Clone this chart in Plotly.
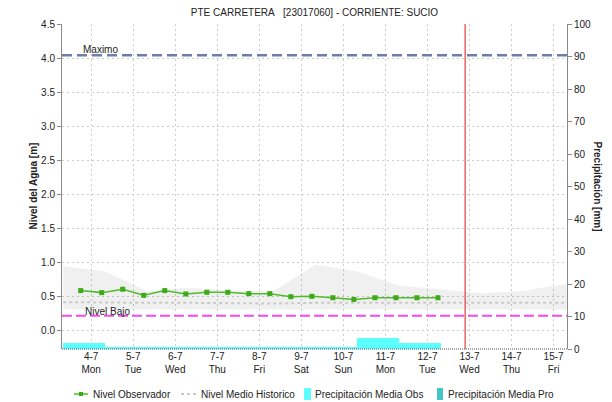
import plotly.graph_objects as go

# ---- data -------------------------------------------------------------
TITLE = "PTE CARRETERA\u00a0\u00a0\u00a0[23017060] - CORRIENTE: SUCIO"

# observed water level, every 12 h (m)
obs_time = [
    "2022-07-04 06:00", "2022-07-04 18:00", "2022-07-05 06:00", "2022-07-05 18:00",
    "2022-07-06 06:00", "2022-07-06 18:00", "2022-07-07 06:00", "2022-07-07 18:00",
    "2022-07-08 06:00", "2022-07-08 18:00", "2022-07-09 06:00", "2022-07-09 18:00",
    "2022-07-10 06:00", "2022-07-10 18:00", "2022-07-11 06:00", "2022-07-11 18:00",
    "2022-07-12 06:00", "2022-07-12 18:00",
]
obs_level = [0.58, 0.55, 0.60, 0.51, 0.58, 0.53, 0.555, 0.555, 0.535, 0.535,
             0.49, 0.495, 0.475, 0.45, 0.475, 0.475, 0.475, 0.475]

# historical envelope and mean level (m), daily
hist_time = [
    "2022-07-03 20:00", "2022-07-04 20:00", "2022-07-05 20:00", "2022-07-06 20:00",
    "2022-07-07 20:00", "2022-07-08 20:00", "2022-07-09 20:00", "2022-07-10 20:00",
    "2022-07-11 20:00", "2022-07-12 20:00", "2022-07-13 20:00", "2022-07-14 20:00",
    "2022-07-15 20:00",
]
hist_max = [0.94, 0.86, 0.57, 0.62, 0.58, 0.57, 0.96, 0.86, 0.65, 0.60, 0.54, 0.58, 0.68]
hist_min = [0.30, 0.30, 0.30, 0.30, 0.30, 0.30, 0.30, 0.30, 0.30, 0.30, 0.30, 0.30, 0.30]
hist_mean = [0.41, 0.40, 0.40, 0.40, 0.39, 0.39, 0.40, 0.40, 0.40, 0.39, 0.39, 0.40, 0.40]

# daily observed precipitation (mm), each bar spans 20:00 -> 20:00
rain_time = [
    "2022-07-04 08:00", "2022-07-05 08:00", "2022-07-06 08:00", "2022-07-07 08:00",
    "2022-07-08 08:00", "2022-07-09 08:00", "2022-07-10 08:00", "2022-07-11 08:00",
    "2022-07-12 08:00",
]
rain_obs = [1.9, 0.5, 0.5, 0.5, 0.5, 0.5, 0.5, 3.3, 1.7]

# reference levels (m) and current time
LEVEL_MAX = 4.04
LEVEL_LOW = 0.21
NOW = "2022-07-13 09:30"

day_ticks = ["2022-07-%02d 12:00" % d for d in range(4, 16)]
x_range = ["2022-07-03 19:20", "2022-07-15 19:40"]

# ---- layout geometry --------------------------------------------------
W, H = 612, 402
ML, MR, MT, MB = 62, 45, 24, 53
PW, PH = W - ML - MR, H - MT - MB


def px(x):
    return (x - ML) / PW


def py(y):
    return (H - MB - y) / PH


FONT = "Liberation Sans, Arial, sans-serif"
TXT = "#222222"
AXIS = "#8a8a8a"
GRID = "#cdcdcd"
GREEN = "#4fbd27"
CYAN = "#5cffff"
TEAL = "#44c6c6"
MAGENTA = "#f04cf0"
MAXC = "#6f7ea6"
MEANC = "#c9c9c9"

fig = go.Figure()

# historical band
fig.add_trace(go.Scatter(x=hist_time, y=hist_min, mode="lines",
                         line=dict(width=0), hoverinfo="skip", showlegend=False))
fig.add_trace(go.Scatter(x=hist_time, y=hist_max, mode="lines", fill="tonexty",
                         fillcolor="rgba(0,0,0,0.06)", line=dict(width=0),
                         hoverinfo="skip", showlegend=False))
# historical mean
fig.add_trace(go.Scatter(x=hist_time, y=hist_mean, mode="lines",
                         line=dict(color=MEANC, width=2, dash="3px,3px"),
                         name="Nivel Medio Historico", showlegend=False))
# observed level
fig.add_trace(go.Scatter(x=obs_time, y=obs_level, mode="lines+markers",
                         line=dict(color=GREEN, width=1.5),
                         marker=dict(color="#3daa18", size=5, symbol="square"),
                         name="Nivel Observador", showlegend=False))
# precipitation bars (right axis)
fig.add_trace(go.Bar(x=rain_time, y=rain_obs, width=[86400000] * len(rain_time),
                     marker=dict(color=CYAN, line=dict(width=0)),
                     yaxis="y2", name="Precipitación Media Obs", showlegend=False))

# threshold levels
fig.add_shape(type="line", xref="paper", x0=0, x1=1, yref="y", y0=LEVEL_MAX, y1=LEVEL_MAX,
              line=dict(color=MAXC, width=2.5, dash="10px,5px"), layer="above")
fig.add_shape(type="line", xref="paper", x0=0, x1=1, yref="y", y0=LEVEL_LOW, y1=LEVEL_LOW,
              line=dict(color=MAGENTA, width=2, dash="10px,4px"), layer="above")
# current time marker
fig.add_shape(type="line", xref="x", x0=NOW, x1=NOW, yref="paper", y0=0, y1=1,
              line=dict(color="#e23c3c", width=1.2), layer="above")
# dotted base line
fig.add_shape(type="line", xref="paper", x0=0, x1=1, yref="paper", y0=0, y1=0,
              line=dict(color="#555555", width=1, dash="1px,1px"), layer="above")

annotations = [
    dict(text="Maximo", xref="paper", yref="y", x=px(81), y=LEVEL_MAX, xanchor="left",
         yanchor="bottom", yshift=-2, showarrow=False, font=dict(size=10, color=TXT)),
    dict(text="Nivel Bajo", xref="paper", yref="y", x=px(83), y=LEVEL_LOW, xanchor="left",
         yanchor="bottom", yshift=-3, showarrow=False, font=dict(size=10, color=TXT)),
    dict(text="<b>Nivel del Agua [m]</b>", xref="paper", yref="paper", x=px(33), y=0.5,
         xanchor="center", yanchor="middle",
         textangle=-90, showarrow=False, font=dict(size=10, color=TXT)),
    dict(text="<b>Precipitación [mm]</b>", xref="paper", yref="paper", x=px(597), y=0.5,
         xanchor="center", yanchor="middle",
         textangle=90, showarrow=False, font=dict(size=10, color=TXT)),
]

# legend drawn along the bottom
LY = 394
shapes_leg = [
    dict(type="line", xref="paper", yref="paper", x0=px(74), x1=px(88), y0=py(LY), y1=py(LY),
         line=dict(color=GREEN, width=1.5)),
    dict(type="rect", xref="paper", yref="paper", x0=px(79), x1=px(83), y0=py(LY - 2), y1=py(LY + 2),
         line=dict(width=0), fillcolor="#3daa18"),
    dict(type="line", xref="paper", yref="paper", x0=px(181), x1=px(196), y0=py(LY), y1=py(LY),
         line=dict(color=MEANC, width=2, dash="3px,3px")),
    dict(type="rect", xref="paper", yref="paper", x0=px(304), x1=px(311), y0=py(LY + 6), y1=py(LY - 6),
         line=dict(width=0), fillcolor=CYAN),
    dict(type="rect", xref="paper", yref="paper", x0=px(437), x1=px(443), y0=py(LY + 6), y1=py(LY - 6),
         line=dict(width=0), fillcolor=TEAL),
]
for s in shapes_leg:
    fig.add_shape(**s)
for label, x0 in [("Nivel Observador", 91), ("Nivel Medio Historico", 199),
                  ("Precipitación Media Obs", 313), ("Precipitación Media Pro", 446)]:
    annotations.append(dict(text=label, xref="paper", yref="paper", x=px(x0), y=py(LY),
                            xanchor="left", yanchor="middle", showarrow=False,
                            font=dict(size=10, color=TXT)))

fig.update_layout(
    width=W, height=H,
    margin=dict(l=ML, r=MR, t=MT, b=MB, pad=0),
    paper_bgcolor="white", plot_bgcolor="white",
    font=dict(family=FONT, size=10, color=TXT),
    title=dict(text=TITLE, x=0.5, xref="paper", y=1 - 12 / H, yanchor="middle",
               font=dict(size=10, color=TXT)),
    showlegend=False,
    bargap=0,
    annotations=annotations,
    xaxis=dict(type="date", range=x_range, tickvals=day_ticks, tickformat="%-d-%-m<br>%a",
               showgrid=True, gridcolor=GRID, griddash="2px,3px", gridwidth=1,
               showline=False, ticks="", zeroline=False,
               tickfont=dict(size=10, color=TXT)),
    yaxis=dict(range=[-0.279, 4.5], tickvals=[0, 0.5, 1, 1.5, 2, 2.5, 3, 3.5, 4, 4.5],
               tickformat=".1f", showgrid=True, gridcolor=GRID, griddash="2px,3px",
               zeroline=False, showline=True, linecolor=AXIS, linewidth=1,
               ticks="outside", ticklen=4, tickcolor=AXIS,
               tickfont=dict(size=10, color=TXT)),
    yaxis2=dict(range=[0, 100], tickvals=list(range(0, 101, 10)), overlaying="y",
                side="right", showgrid=False, zeroline=False, showline=True,
                linecolor=AXIS, linewidth=1, ticks="outside", ticklen=4, tickcolor=AXIS,
                tickfont=dict(size=10, color=TXT)),
)

fig.write_html("out.html")
